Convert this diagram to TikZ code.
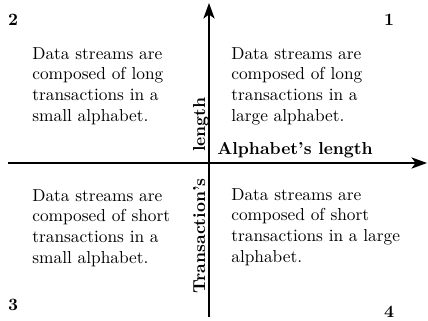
\documentclass[tikz,border=0pt]{standalone}
\usetikzlibrary{arrows.meta}
\begin{document}
\begin{tikzpicture}[x=0.0203cm, y=-0.0203cm,
  axis/.style={line width=1pt, -{Stealth[length=9pt,width=6.5pt,inset=2.4pt]}},
  quadtext/.style={anchor=north west, inner sep=0pt, align=left},
  quadnum/.style={inner sep=0pt, font=\bfseries},
  axislabel/.style={inner sep=0pt, font=\bfseries}]
  \useasboundingbox (0,0) rectangle (428,320);

  % axes
  \coordinate (xstart) at (8,163);
  \coordinate (xend) at (427,163);
  \coordinate (ystart) at (209,317);
  \coordinate (yend) at (209,3);
  \draw[axis] (xstart) -- (xend);
  \draw[axis] (ystart) -- (yend);

  % axis labels
  \node[axislabel, anchor=base west] (xlabel) at (217,154) {Alphabet's length};
  \node[axislabel, anchor=base west, rotate=90] (ylabel) at (205,294)
    {Transaction's\hspace*{11.5pt} length};

  % quadrant numbers
  \node[quadnum] (q1) at (389,20) {1};
  \node[quadnum] (q2) at (13,20) {2};
  \node[quadnum] (q3) at (13,305) {3};
  \node[quadnum] (q4) at (389,312) {4};

  % quadrant descriptions
  \node[quadtext] (t2) at (32,47) {Data streams are\\composed of long\\transactions in a\\small alphabet.};
  \node[quadtext] (t1) at (231,47) {Data streams are\\composed of long\\transactions in a\\large alphabet.};
  \node[quadtext] (t3) at (32,189) {Data streams are\\composed of short\\transactions in a\\small alphabet.};
  \node[quadtext] (t4) at (231,188) {Data streams are\\composed of short\\transactions in a large\\alphabet.};
\end{tikzpicture}
\end{document}
